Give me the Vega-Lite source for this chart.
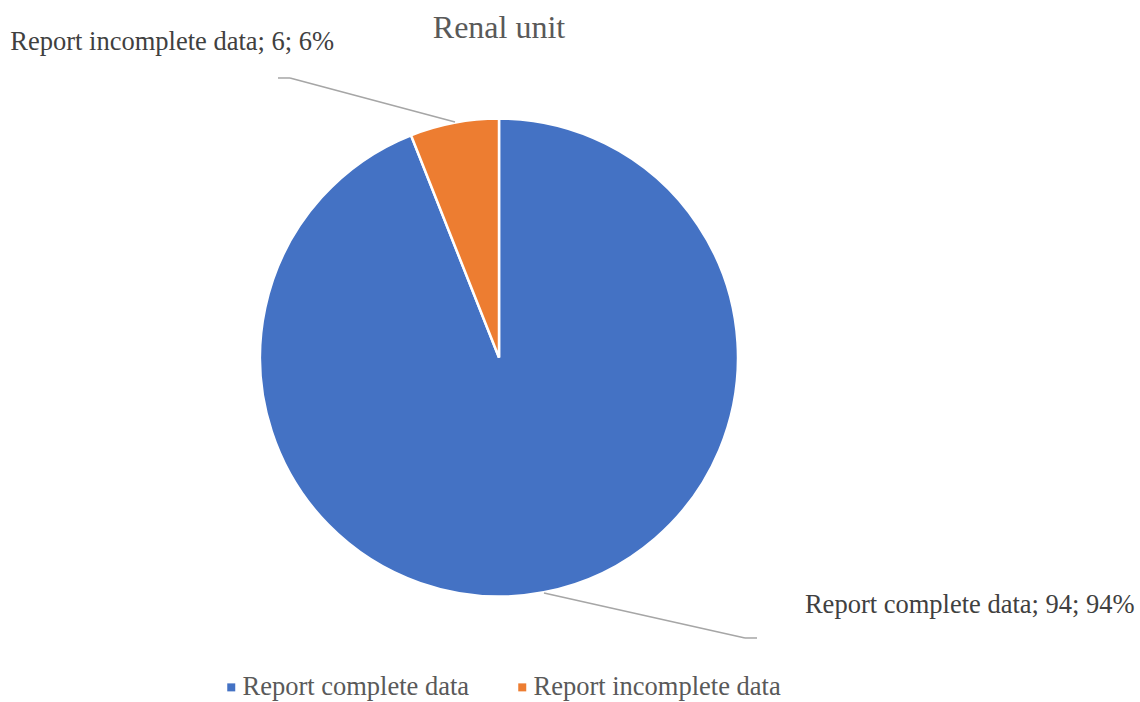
{
  "$schema": "https://vega.github.io/schema/vega-lite/v6.json",
  "width": 1140,
  "height": 702,
  "autosize": "none",
  "padding": 0,
  "background": "white",
  "config": {"view": {"stroke": null}, "font": "'Times New Roman', 'Liberation Serif', serif"},
  "title": {
    "text": "Renal unit",
    "font": "'Times New Roman', 'Liberation Serif', serif",
    "fontSize": 32,
    "fontWeight": "normal",
    "color": "#595959",
    "anchor": "middle",
    "frame": "group",
    "offset": -45,
    "dx": -71
  },
  "datasets": {
    "slices": [
      {"category": "Report complete data", "value": 94},
      {"category": "Report incomplete data", "value": 6}
    ],
    "leaders": [
      {"x": -0.1841, "y": 0.9854, "x2": -0.8745, "y2": 1.1695},
      {"x": -0.8745, "y": 1.1695, "x2": -0.9247, "y2": 1.1695},
      {"x": 0.1883, "y": -0.9854, "x2": 1.0293, "y2": -1.1736},
      {"x": 1.0293, "y": -1.1736, "x2": 1.0795, "y2": -1.1736}
    ]
  },
  "layer": [
    {
      "data": {"name": "slices"},
      "mark": {"type": "arc", "outerRadius": 239, "stroke": "white", "strokeWidth": 2.5},
      "encoding": {
        "x": {"datum": 0, "type": "quantitative", "scale": {"domain": [-2.08787, 2.68201], "nice": false, "zero": false}, "axis": null},
        "y": {"datum": 0, "type": "quantitative", "scale": {"domain": [-1.44142, 1.49582], "nice": false, "zero": false}, "axis": null},
        "theta": {"field": "value", "type": "quantitative", "stack": true},
        "color": {
          "field": "category",
          "type": "nominal",
          "scale": {"domain": ["Report complete data", "Report incomplete data"], "range": ["#4472C4", "#ED7D31"]},
          "legend": {
            "title": null,
            "orient": "none",
            "direction": "horizontal",
            "legendX": 218,
            "legendY": 674,
            "padding": 0,
            "symbolType": "square",
            "symbolSize": 64,
            "symbolStrokeWidth": 0,
            "labelFont": "'Times New Roman', 'Liberation Serif', serif",
            "labelFontSize": 26.5,
            "labelColor": "#595959",
            "labelOffset": -2,
            "columnPadding": 39,
            "labelLimit": 400
          }
        }
      }
    },
    {
      "data": {"name": "leaders"},
      "mark": {"type": "rule", "color": "#A6A6A6", "strokeWidth": 1.5},
      "encoding": {
        "x": {"field": "x", "type": "quantitative"},
        "y": {"field": "y", "type": "quantitative"},
        "x2": {"field": "x2"},
        "y2": {"field": "y2"}
      }
    },
    {
      "data": {"name": "slices"},
      "transform": [
        {"joinaggregate": [{"op": "sum", "field": "value", "as": "total"}]},
        {"calculate": "datum.category + '; ' + datum.value + '; ' + round(datum.value / datum.total * 100) + '%'", "as": "label"}
      ],
      "mark": {"type": "text", "radius": 239, "dx": 426, "dy": 13, "align": "center", "baseline": "middle", "font": "'Times New Roman', 'Liberation Serif', serif", "fontSize": 26.5, "color": "#404040"},
      "encoding": {
        "x": {"datum": 0, "type": "quantitative"},
        "y": {"datum": 0, "type": "quantitative"},
        "theta": {"field": "value", "type": "quantitative", "stack": true},
        "detail": {"field": "category"},
        "text": {"condition": {"test": "datum.category === 'Report complete data'", "field": "label"}, "value": ""}
      }
    },
    {
      "data": {"name": "slices"},
      "transform": [
        {"joinaggregate": [{"op": "sum", "field": "value", "as": "total"}]},
        {"calculate": "datum.category + '; ' + datum.value + '; ' + round(datum.value / datum.total * 100) + '%'", "as": "label"}
      ],
      "mark": {"type": "text", "radius": 239, "dx": -282, "dy": -81, "align": "center", "baseline": "middle", "font": "'Times New Roman', 'Liberation Serif', serif", "fontSize": 26.5, "color": "#404040"},
      "encoding": {
        "x": {"datum": 0, "type": "quantitative"},
        "y": {"datum": 0, "type": "quantitative"},
        "theta": {"field": "value", "type": "quantitative", "stack": true},
        "detail": {"field": "category"},
        "text": {"condition": {"test": "datum.category === 'Report incomplete data'", "field": "label"}, "value": ""}
      }
    }
  ]
}
